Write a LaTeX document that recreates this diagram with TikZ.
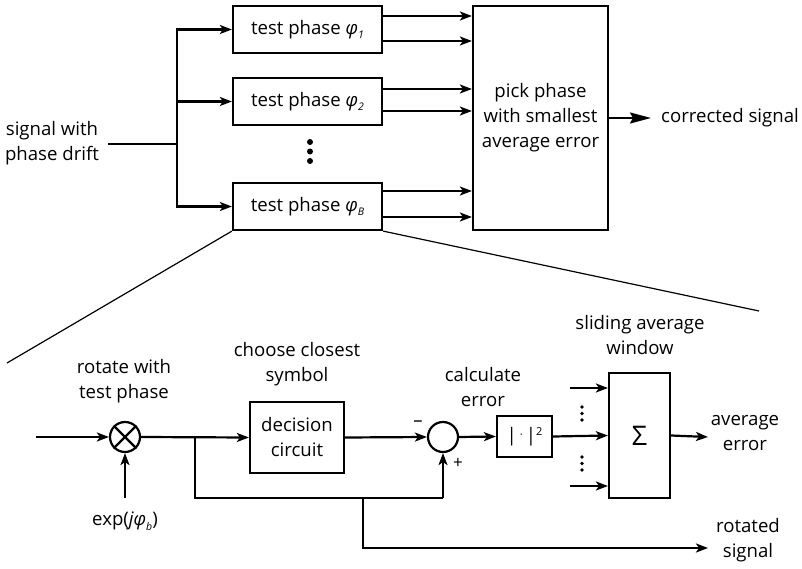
\documentclass[tikz,border=0pt]{standalone}
\usepackage{fontspec}
\setmainfont{Open Sans}
\usetikzlibrary{arrows.meta}
\newcommand{\lowsub}[1]{\raisebox{-4.5pt}{\fontsize{10.5}{10.5}\selectfont\itshape #1}}
\begin{document}
\begin{tikzpicture}[x=1pt,y=-1pt,
  font=\fontsize{18.6}{25}\selectfont,
  line join=miter,
  ln/.style={line width=2.2pt},
  wire/.style={line width=2.2pt,-{Stealth[length=12pt,width=9pt,inset=3pt]}},
  bigwire/.style={line width=2.2pt,-{Stealth[length=21pt,width=11pt,inset=3pt]}},
  blk/.style={draw,line width=2.2pt,inner sep=0pt,align=center},
  sumc/.style={draw,circle,line width=2.2pt,inner sep=0pt,minimum size=30pt},
  lbl/.style={align=center,inner sep=0pt},
  zoomln/.style={line width=1.2pt},
  dotc/.style={fill,circle,inner sep=0pt,minimum size=6pt},
  sdot/.style={fill,circle,inner sep=0pt,minimum size=3.8pt}
]
\useasboundingbox (0,0) rectangle (802,569);

% ---------- top part ----------
\node[lbl] (sig) at (52,143) {signal with\\phase drift};
\coordinate (sigend) at (108,144);
\coordinate (bus) at (177,144);

\node[blk,minimum width=149pt,minimum height=47pt] (t1) at (307.5,29.5) {test phase \textit{φ}\lowsub{1}};
\node[blk,minimum width=149pt,minimum height=47pt] (t2) at (307.5,101.5) {test phase \textit{φ}\lowsub{2}};
\node[blk,minimum width=149pt,minimum height=47pt] (tB) at (307.5,206.5) {test phase \textit{φ}\lowsub{B}};

\node[dotc] (d1) at (310,142) {};
\node[dotc] (d2) at (310,151.5) {};
\node[dotc] (d3) at (310,161) {};

\node[blk,minimum width=135pt,minimum height=224pt] (pick) at (540.5,118) {pick phase\\with smallest\\average error};
\node[lbl,anchor=west] (cs) at (661,118) {corrected signal};
\coordinate (csend) at (651,118);

\draw[ln] (sigend) -- (bus);
\draw[wire] (bus) |- (t1.west);
\draw[wire] (bus) |- (t2.west);
\draw[wire] (bus) |- (tB.west);

\draw[wire] (t1.east |- 0,16) -- (pick.west |- 0,16);
\draw[wire] (t1.east |- 0,41) -- (pick.west |- 0,41);
\draw[wire] (t2.east |- 0,89) -- (pick.west |- 0,89);
\draw[wire] (t2.east |- 0,111) -- (pick.west |- 0,111);
\draw[wire] (tB.east |- 0,191) -- (pick.west |- 0,191);
\draw[wire] (tB.east |- 0,217) -- (pick.west |- 0,217);

\draw[bigwire] (pick.east) -- (csend);

% zoom lines
\coordinate (zl) at (7,363);
\coordinate (zr) at (759,311);
\draw[zoomln] (tB.south west) -- (zl);
\draw[zoomln] (tB.south east) -- (zr);

% ---------- bottom part ----------
\coordinate (in2) at (36,437);
\node[sumc] (mult) at (125,437) {};
\draw[line width=2.2pt] (mult.45) -- (mult.225) (mult.135) -- (mult.315);
\coordinate (expin) at (125,498);
\node[lbl] (expl) at (125,521) {exp(\textit{jφ}\lowsub{b})};
\node[lbl] (rotl) at (124,381) {rotate with\\test phase};

\node[blk,minimum width=94pt,minimum height=71pt] (dec) at (297,437.5) {decision\\circuit};
\node[lbl] (chl) at (297,364) {choose closest\\symbol};

\node[sumc] (sum) at (443,437) {};
\node[lbl] (minus) at (418,424) {–};
\node[lbl,font=\fontsize{17}{17}\selectfont] (plus) at (458,463) {+};

\node[blk,minimum width=55pt,minimum height=41pt] (abs) at (524.5,436.5) {|\,\raisebox{3pt}{\fontsize{11}{11}\selectfont·}\,|\raisebox{6pt}{\fontsize{11}{11}\selectfont 2}};
\node[lbl] (cal) at (483,387) {calculate\\error};

\node[blk,minimum width=61pt,minimum height=125pt,font=\fontsize{27}{27}\selectfont] (sig2) at (639.5,435.5) {Σ};
\node[lbl] (sll) at (640,335) {sliding average\\window};
\coordinate (a1) at (570,388);
\coordinate (a3) at (570,486);
\node[sdot] (e1) at (582,407) {};
\node[sdot] (e2) at (582,413.5) {};
\node[sdot] (e3) at (582,420) {};
\node[sdot] (f1) at (582,457) {};
\node[sdot] (f2) at (582,463.5) {};
\node[sdot] (f3) at (582,470) {};

\node[lbl] (avg) at (745,433) {average\\error};
\coordinate (avgend) at (708,437);

\coordinate (j1) at (195,437);
\coordinate (fb) at (443,498);
\coordinate (j2) at (363,498);
\coordinate (rsend) at (708,548);
\node[lbl] (rsl) at (748,540) {rotated\\signal};

\draw[wire] (in2) -- (mult.west);
\draw[wire] (expin) -- (mult.south);
\draw[wire] (mult.east) -- (dec.west);
\draw[ln] (j1) |- (fb);
\draw[wire] (fb) -- (sum.south);
\draw[wire] (dec.east) -- (sum.west);
\draw[wire] (sum.east) -- (abs.west);
\draw[wire] (abs.east) -- (sig2.west);
\draw[wire] (a1) -- (sig2.west |- a1);
\draw[wire] (a3) -- (sig2.west |- a3);
\draw[wire] (sig2.east) -- (avgend);
\draw[wire] (j2) |- (rsend);
\end{tikzpicture}
\end{document}
